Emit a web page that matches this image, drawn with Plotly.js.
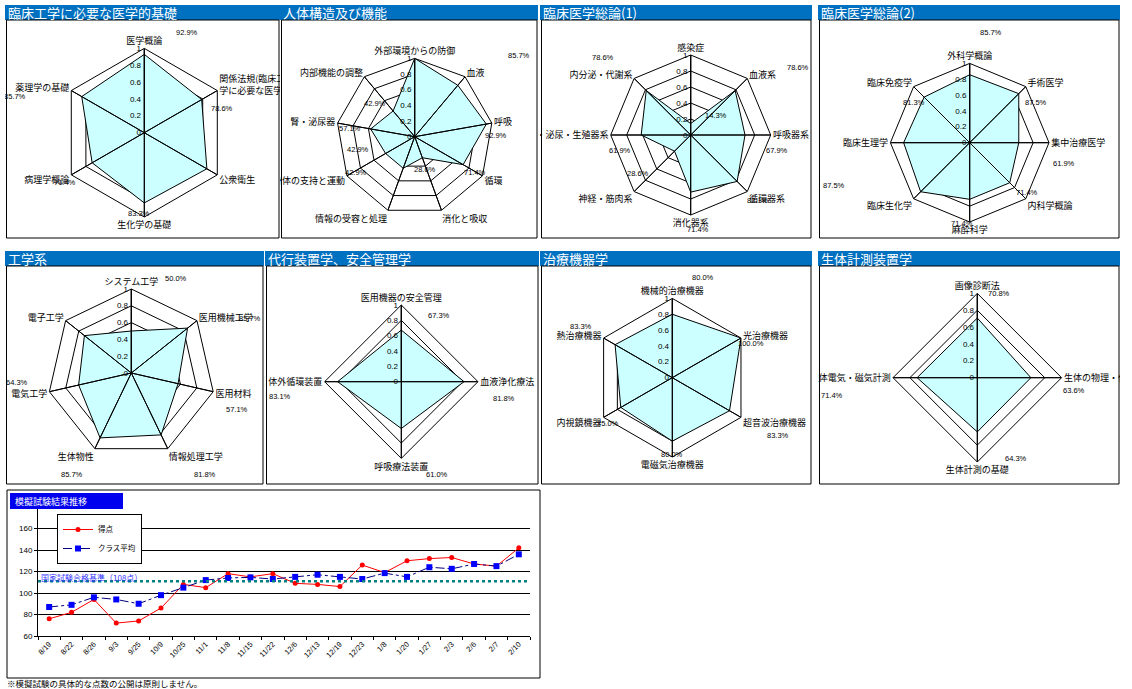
<!DOCTYPE html>
<html><head><meta charset="utf-8">
<script src="https://cdn.plot.ly/plotly-3.0.1.min.js"></script>
<style>
body{margin:0;background:#fff;width:1132px;height:689px;overflow:hidden;position:relative;}
.pn{position:absolute;overflow:hidden;}
</style></head><body>
<div id="p1" class="pn"></div><div id="p2" class="pn"></div><div id="p3" class="pn"></div><div id="p4" class="pn"></div>
<div id="p5" class="pn"></div><div id="p6" class="pn"></div><div id="p7" class="pn"></div><div id="p8" class="pn"></div>
<div id="lc" class="pn"></div>
<script>
// ---------------- DATA ----------------
const title1 = '臨床工学に必要な医学的基礎';
const cats1 = ['医学概論', '関係法規(臨床工<br>学に必要な医学的基礎)', '公衆衛生', '生化学の基礎', '病理学概論', '薬理学の基礎'];
const vals1 = [92.9, 78.6, 85.7, 83.3, 71.4, 85.7];

const title2 = '人体構造及び機能';
const cats2 = ['外部環境からの防御', '血液', '呼吸', '循環', '消化と吸収', '情報の受容と処理', '身体の支持と運動', '腎・泌尿器', '内部機能の調整'];
const vals2 = [100.0, 85.7, 92.9, 71.4, 28.6, 42.9, 42.9, 57.1, 42.9];

const title3 = '臨床医学総論(1)';
const cats3 = ['感染症', '血液系', '呼吸器系', '循環器系', '消化器系', '神経・筋肉系', '腎・泌尿・生殖器系', '内分泌・代謝系'];
const vals3 = [14.3, 78.6, 67.9, 82.1, 71.4, 28.6, 61.9, 78.6];

const title4 = '臨床医学総論(2)';
const cats4 = ['外科学概論', '手術医学', '集中治療医学', '内科学概論', '麻酔科学', '臨床生化学', '臨床生理学', '臨床免疫学'];
const vals4 = [85.7, 87.5, 61.9, 71.4, 71.4, 87.5, 83.3, 81.3];

const title5 = '工学系';
const cats5 = ['システム工学', '医用機械工学', '医用材料', '情報処理工学', '生体物性', '電気工学', '電子工学'];
const vals5 = [50.0, 85.7, 57.1, 81.8, 85.7, 64.3, 71.4];

const title6 = '代行装置学、安全管理学';
const cats6 = ['医用機器の安全管理', '血液浄化療法', '呼吸療法装置', '体外循環装置'];
const vals6 = [67.3, 81.8, 61.0, 83.1];

const title7 = '治療機器学';
const cats7 = ['機械的治療機器', '光治療機器', '超音波治療機器', '電磁気治療機器', '内視鏡機器', '熱治療機器'];
const vals7 = [80.0, 100.0, 83.3, 80.0, 75.0, 83.3];

const title8 = '生体計測装置学';
const cats8 = ['画像診断法', '生体の物理・化学計測', '生体計測の基礎', '生体電気・磁気計測'];
const vals8 = [70.8, 63.6, 64.3, 71.4];

const lineTitle = '模擬試験結果推移';
const dates = ['8/19','8/22','8/26','9/3','9/25','10/9','10/25','11/1','11/8','11/15','11/22','12/6','12/13','12/19','12/23','1/8','1/20','1/27','2/3','2/6','2/7','2/10'];
const scores   = [76, 82, 94, 72, 74, 86, 108, 105, 118, 115, 118, 109, 108, 106, 126, 119, 130, 132, 133, 127, 125, 142];
const classAvg = [87, 89, 96, 94, 90, 98, 105, 112, 114, 114.5, 113, 115, 117, 115, 113, 118.5, 115, 124, 122.5, 127, 125, 136];
const passLine = 111;
const passLabel = '国家試験合格基準（108点）';
const footnote = '※模擬試験の具体的な点数の公開は原則しません。';

// ---------------- LAYOUT CONFIG ----------------
const FONT = '"Noto Sans CJK JP", "Noto Sans", sans-serif';
const NUMFONT = '"Liberation Sans", Arial, sans-serif';
const BAR = '#0070c0';
const panels = [
  {id:'p1', title:title1, cats:cats1, vals:vals1, x0:5,   y0:5,   w:275, h:234, cx:144.3, cy:132.7, R:84.3,
   pos:[[0,187,32],[1,222,108],[3,139,213],[4,65,182],[5,15,97]]},
  {id:'p2', title:title2, cats:cats2, vals:vals2, x0:280, y0:5,   w:258, h:234, cx:414.7, cy:136.7, R:78.3,
   pos:[[1,519,55],[2,496,135],[3,475,172],[4,425,169],[5,358,149],[6,356,172],[7,350,128],[8,375,103]]},
  {id:'p3', title:title3, cats:cats3, vals:vals3, x0:540, y0:5,   w:272, h:234, cx:690.7, cy:135, R:80,
   pos:[[0,716,115],[1,798,68],[2,777,150],[3,758,200],[4,698,229],[5,638,173],[6,620,150],[7,603,57]]},
  {id:'p4', title:title4, cats:cats4, vals:vals4, x0:818, y0:5,   w:302, h:234, cx:969.7, cy:142.7, R:79.3,
   pos:[[0,991,32],[1,1036,102],[2,1064,163],[3,1027,192],[4,962,223],[5,834,185],[7,914,102]]},
  {id:'p5', title:title5, cats:cats5, vals:vals5, x0:5,   y0:251, w:259, h:234, cx:131.3, cy:373, R:84,
   pos:[[0,176,278],[1,250,318],[2,237,409],[3,205,474],[4,72,474],[5,17,382]]},
  {id:'p6', title:title6, cats:cats6, vals:vals6, x0:265, y0:251, w:274, h:234, cx:401.3, cy:381.7, R:76.7,
   pos:[[0,439,315],[1,504,398],[2,437,474],[3,280,396]]},
  {id:'p7', title:title7, cats:cats7, vals:vals7, x0:540, y0:251, w:272, h:234, cx:672.3, cy:377.7, R:79.3,
   pos:[[0,703,277],[1,751,344],[2,778,435],[3,672,454],[4,608,423],[5,581,327]]},
  {id:'p8', title:title8, cats:cats8, vals:vals8, x0:818, y0:251, w:302, h:234, cx:977.3, cy:377.7, R:84.3,
   pos:[[0,999,293],[1,1074,390],[2,1016,458],[3,832,395]]}
];

function place(el, x0, y0, w, h){
  el.style.left = x0+'px'; el.style.top = y0+'px'; el.style.width = w+'px'; el.style.height = h+'px';
}

function radar(p){
  const el = document.getElementById(p.id);
  place(el, p.x0, p.y0, p.w, p.h);
  const px = x => (x - p.x0) / p.w;
  const py = y => 1 - (y - p.y0) / p.h;
  const r = p.vals.map(v => v / 100);
  const sr = [], st = [];
  p.cats.forEach(c => { sr.push(0, 1, 0); st.push(c, c, c); });
  const traces = [
    {type:'scatterpolar', r:r.concat([r[0]]), theta:p.cats.concat([p.cats[0]]), mode:'lines',
     fill:'toself', fillcolor:'#ccffff', line:{color:'#000', width:1}, hoverinfo:'skip'},
    {type:'scatterpolar', r:sr, theta:st, mode:'lines', line:{color:'#000', width:1}, hoverinfo:'skip'}
  ];
  const ann = [{x:px(p.x0+2), y:py(p.y0+8), xref:'paper', yref:'paper', xanchor:'left', yanchor:'middle', borderpad:0,
                text:p.title, showarrow:false, font:{family:FONT, size:13, color:'#fff'}}];
  p.pos.forEach(q => ann.push({x:px(q[1]), y:py(q[2]), xref:'paper', yref:'paper', xanchor:'center', yanchor:'middle',
     text:p.vals[q[0]].toFixed(1)+'%', showarrow:false, font:{family:NUMFONT, size:7.5, color:'#000'}}));
  const layout = {
    width:p.w, height:p.h, margin:{l:0,r:0,t:0,b:0}, paper_bgcolor:'#fff', showlegend:false,
    polar:{
      domain:{x:[px(p.cx-p.R), px(p.cx+p.R)], y:[py(p.cy+p.R), py(p.cy-p.R)]},
      bgcolor:'#fff', gridshape:'linear',
      angularaxis:{type:'category', categoryorder:'array', categoryarray:p.cats, direction:'clockwise', rotation:90,
        showgrid:false, showline:true, linecolor:'#000', linewidth:1, ticks:'',
        tickfont:{family:FONT, size:9, color:'#000'}},
      radialaxis:{range:[0,1], tick0:0, dtick:0.2, showgrid:true, gridcolor:'#000', gridwidth:1,
        showline:true, linecolor:'#000', ticks:'', angle:90, tickangle:90, side:'counterclockwise',
        tickfont:{family:NUMFONT, size:8, color:'#000'}}
    },
    shapes:[
      {type:'rect', xref:'paper', yref:'paper', x0:0, x1:1, y0:py(p.y0+15), y1:1, fillcolor:BAR, line:{width:0}, layer:'below'},
      {type:'rect', xref:'paper', yref:'paper', x0:px(p.x0+1.5), x1:px(p.x0+p.w-1), y0:py(p.y0+p.h-1), y1:py(p.y0+15),
       line:{color:'#000', width:1}, fillcolor:'rgba(0,0,0,0)'}
    ],
    annotations:ann
  };
  Plotly.newPlot(el, traces, layout, {staticPlot:true, displayModeBar:false});
}
panels.forEach(radar);

// ---------------- LINE CHART ----------------
(function(){
  const el = document.getElementById('lc');
  const X0 = 5, Y0 = 488, W = 537, H = 201;
  place(el, X0, Y0, W, H);
  const PL = 38, PR = 530, PT = 507, PB = 636;
  const xp = x => (x - PL) / (PR - PL);
  const yp = y => (PB - y) / (PB - PT);
  const traces = [
    {type:'scatter', x:dates, y:scores, name:'得点', mode:'lines+markers',
     line:{color:'#ff0000', width:1}, marker:{symbol:'circle', size:5, color:'#ff0000'}},
    {type:'scatter', x:dates, y:classAvg, name:'クラス平均', mode:'lines+markers',
     line:{color:'#000080', width:1, dash:'dashdot'}, marker:{symbol:'square', size:6, color:'#0000ff'}}
  ];
  const layout = {
    width:W, height:H, margin:{l:PL-X0, r:X0+W-PR, t:PT-Y0, b:Y0+H-PB}, paper_bgcolor:'#fff', plot_bgcolor:'#fff',
    font:{family:NUMFONT, size:8, color:'#000'},
    xaxis:{type:'category', range:[-0.5, dates.length-0.5], tickangle:-45, tickfont:{size:7.5, color:'#000'},
      ticks:'outside', tickson:'boundaries', ticklen:3, tickcolor:'#000', showline:true, linecolor:'#000', showgrid:false,
      automargin:false},
    yaxis:{range:[60,180], tickvals:[60,80,100,120,140,160,180], ticktext:['60','80','100','120','140','160',''],
      showgrid:true, gridcolor:'#000', gridwidth:1, showline:true, linecolor:'#000', ticks:'outside', ticklen:3,
      tickcolor:'#000', tickfont:{size:8, color:'#000'}, zeroline:false, automargin:false},
    legend:{x:xp(57), y:yp(514), xanchor:'left', yanchor:'top', bgcolor:'#fff', bordercolor:'#000', borderwidth:1,
      font:{family:FONT, size:7.5, color:'#000'}, tracegroupgap:0, itemwidth:30},
    shapes:[
      {type:'line', xref:'paper', yref:'y', x0:0, x1:1, y0:passLine, y1:passLine,
       line:{color:'#008080', width:2.5, dash:'dot'}},
      {type:'rect', xref:'paper', yref:'paper', x0:xp(7), x1:xp(540), y0:yp(678), y1:yp(490),
       line:{color:'#000', width:1}, fillcolor:'rgba(0,0,0,0)'},
      {type:'rect', xref:'paper', yref:'paper', x0:xp(10), x1:xp(123), y0:yp(509), y1:yp(493),
       fillcolor:'#0000ee', line:{width:0}, layer:'above'}
    ],
    annotations:[
      {x:xp(13), y:yp(501.5), xref:'paper', yref:'paper', xanchor:'left', yanchor:'middle', showarrow:false,
       text:lineTitle, font:{family:FONT, size:9, color:'#fff'}},
      {x:xp(39), y:yp(577), xref:'paper', yref:'paper', xanchor:'left', yanchor:'middle', showarrow:false,
       text:passLabel, font:{family:FONT, size:8, color:'#3333ff'}},
      {x:xp(5), y:yp(683), xref:'paper', yref:'paper', xanchor:'left', yanchor:'middle', showarrow:false,
       text:footnote, font:{family:FONT, size:8.5, color:'#000'}}
    ]
  };
  Plotly.newPlot(el, traces, layout, {staticPlot:true, displayModeBar:false});
})();
</script>
</body></html>
